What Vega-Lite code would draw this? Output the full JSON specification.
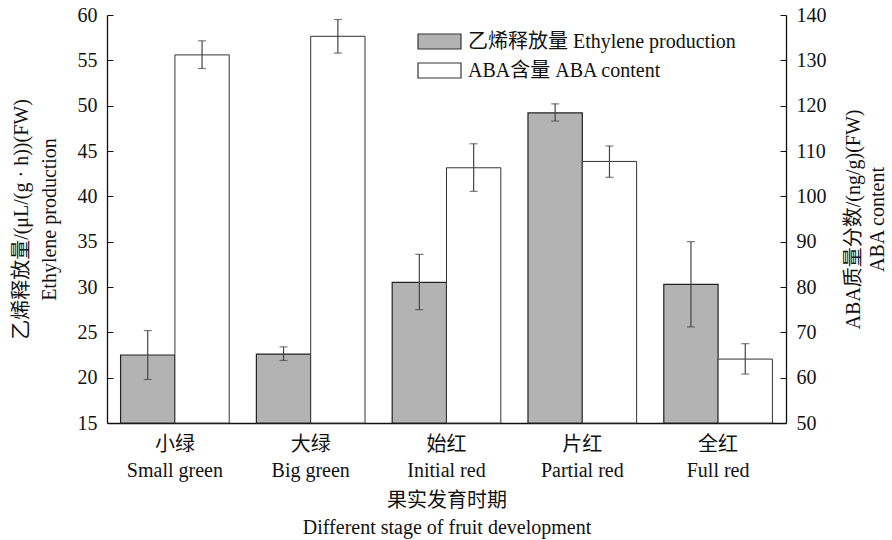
{
  "$schema": "https://vega.github.io/schema/vega-lite/v6.json",
  "autosize": {"type": "none"},
  "padding": {"left": 107, "top": 15, "right": 106, "bottom": 117},
  "width": 679,
  "height": 408,
  "background": "white",
  "config": {
    "view": {"stroke": null},
    "font": "Liberation Serif, Noto Sans CJK SC",
    "axis": {
      "domainColor": "#111",
      "domainWidth": 1.3,
      "tickColor": "#111",
      "labelColor": "#111",
      "titleColor": "#111",
      "labelFont": "Liberation Serif, Noto Sans CJK SC",
      "titleFont": "Liberation Serif, Noto Sans CJK SC",
      "labelFontSize": 20,
      "titleFontSize": 20,
      "titleFontWeight": "normal",
      "grid": false
    },
    "legend": {
      "labelFont": "Liberation Serif, Noto Sans CJK SC",
      "labelFontSize": 20,
      "labelColor": "#111",
      "labelLimit": 0
    }
  },
  "data": {
    "values": [
      {"stage": "小绿|Small green", "series": "乙烯释放量 Ethylene production", "value": 22.5, "lo": 19.8, "hi": 25.2},
      {"stage": "大绿|Big green", "series": "乙烯释放量 Ethylene production", "value": 22.6, "lo": 21.9, "hi": 23.4},
      {"stage": "始红|Initial red", "series": "乙烯释放量 Ethylene production", "value": 30.5, "lo": 27.5, "hi": 33.6},
      {"stage": "片红|Partial red", "series": "乙烯释放量 Ethylene production", "value": 49.2, "lo": 48.3, "hi": 50.2},
      {"stage": "全红|Full red", "series": "乙烯释放量 Ethylene production", "value": 30.3, "lo": 25.6, "hi": 35.0},
      {"stage": "小绿|Small green", "series": "ABA含量 ABA content", "value": 131.2, "lo": 128.2, "hi": 134.3},
      {"stage": "大绿|Big green", "series": "ABA含量 ABA content", "value": 135.3, "lo": 131.6, "hi": 139.0},
      {"stage": "始红|Initial red", "series": "ABA含量 ABA content", "value": 106.3, "lo": 101.1, "hi": 111.6},
      {"stage": "片红|Partial red", "series": "ABA含量 ABA content", "value": 107.7, "lo": 104.2, "hi": 111.1},
      {"stage": "全红|Full red", "series": "ABA含量 ABA content", "value": 64.1, "lo": 60.8, "hi": 67.5}
    ]
  },
  "encoding": {
    "x": {
      "field": "stage",
      "type": "nominal",
      "sort": null,
      "scale": {"paddingInner": 0.2, "paddingOuter": 0.1},
      "axis": {
        "title": ["果实发育时期", "Different stage of fruit development"],
        "titleLineHeight": 27,
        "titlePadding": 10,
        "labelAngle": 0,
        "labelExpr": "split(datum.label, '|')",
        "labelLineHeight": 26,
        "labelPadding": 11,
        "ticks": false
      }
    },
    "xOffset": {
      "field": "series",
      "type": "nominal",
      "sort": null,
      "scale": {"domain": ["乙烯释放量 Ethylene production", "ABA含量 ABA content"]}
    }
  },
  "layer": [
    {
      "transform": [{"filter": "datum.series === '乙烯释放量 Ethylene production'"}],
      "encoding": {
        "y": {
          "type": "quantitative",
          "scale": {"domain": [15, 60], "zero": false, "nice": false}
        }
      },
      "layer": [
        {
          "mark": {"type": "bar", "stroke": "#222", "strokeWidth": 1.2},
          "encoding": {
            "y": {
              "field": "value",
              "type": "quantitative",
              "axis": {
                "orient": "left",
                "values": [15, 20, 25, 30, 35, 40, 45, 50, 55, 60],
                "tickSize": -6,
                "labelPadding": 16,
                "title": ["乙烯释放量/(μL/(g · h))(FW)", "Ethylene production"],
                "titleLineHeight": 28,
                "titlePadding": 18
              }
            },
            "y2": {"datum": 15},
            "fill": {
              "field": "series",
              "type": "nominal",
              "scale": {
                "domain": ["乙烯释放量 Ethylene production", "ABA含量 ABA content"],
                "range": ["#b3b3b3", "#ffffff"]
              },
              "legend": {
                "title": null,
                "orient": "none",
                "legendX": 321,
                "legendY": 15,
                "padding": 0,
                "symbolType": "M-2,-0.7H2V0.7H-2Z",
                "symbolSize": 462,
                "symbolStrokeColor": "#333",
                "symbolStrokeWidth": 1.2,
                "labelOffset": 17,
                "rowPadding": 7
              }
            }
          }
        },
        {
          "mark": {"type": "rule", "color": "#444", "strokeWidth": 1.2},
          "encoding": {"y": {"field": "lo", "type": "quantitative"}, "y2": {"field": "hi"}}
        },
        {
          "mark": {"type": "tick", "color": "#444", "size": 8, "thickness": 1.2},
          "encoding": {"y": {"field": "lo", "type": "quantitative"}}
        },
        {
          "mark": {"type": "tick", "color": "#444", "size": 8, "thickness": 1.2},
          "encoding": {"y": {"field": "hi", "type": "quantitative"}}
        }
      ]
    },
    {
      "transform": [{"filter": "datum.series === 'ABA含量 ABA content'"}],
      "encoding": {
        "y": {
          "type": "quantitative",
          "scale": {"domain": [50, 140], "zero": false, "nice": false}
        }
      },
      "layer": [
        {
          "mark": {"type": "bar", "stroke": "#333", "strokeWidth": 1},
          "encoding": {
            "y": {
              "field": "value",
              "type": "quantitative",
              "axis": {
                "orient": "right",
                "values": [50, 60, 70, 80, 90, 100, 110, 120, 130, 140],
                "tickSize": -6,
                "labelPadding": 16,
                "title": ["ABA质量分数/(ng/g)(FW)", "ABA content"],
                "titleAngle": 270,
                "titleLineHeight": 24,
                "titlePadding": 13
              }
            },
            "y2": {"datum": 50},
            "fill": {"field": "series", "type": "nominal"}
          }
        },
        {
          "mark": {"type": "rule", "color": "#444", "strokeWidth": 1.2},
          "encoding": {"y": {"field": "lo", "type": "quantitative"}, "y2": {"field": "hi"}}
        },
        {
          "mark": {"type": "tick", "color": "#444", "size": 8, "thickness": 1.2},
          "encoding": {"y": {"field": "lo", "type": "quantitative"}}
        },
        {
          "mark": {"type": "tick", "color": "#444", "size": 8, "thickness": 1.2},
          "encoding": {"y": {"field": "hi", "type": "quantitative"}}
        }
      ]
    }
  ],
  "resolve": {"scale": {"y": "independent"}, "axis": {"y": "independent"}}
}
